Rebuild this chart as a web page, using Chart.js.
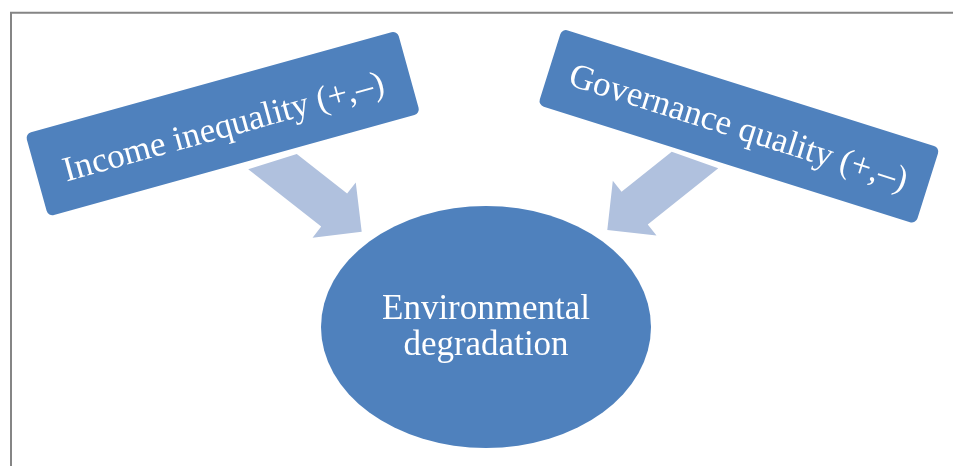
<!DOCTYPE html>
<html>
<head>
<meta charset="utf-8">
<script src="https://cdn.jsdelivr.net/npm/chart.js@4"></script>
<style>
  html, body { margin: 0; padding: 0; background: #ffffff; }
  #wrap { position: relative; width: 953px; height: 466px; }
</style>
</head>
<body>
<div id="wrap"><canvas id="c"></canvas></div>
<script>
// ---- Data (diagram coordinates on a 0–953 × 0–466 value grid) ----
const nodeLabels = ["Income inequality (+,–)", "Governance quality (+,–)", "Environmental\ndegradation"];
const nodeX = [222.7, 738.9, 486];
const nodeY = [123.6, 126.3, 327];
const arrowTailX = [272.5, 695];
const arrowTailY = [161.7, 160];
const arrowTipX = [361.7, 607.3];
const arrowTipY = [231.7, 230];

const diagramPlugin = {
  id: 'diagram',
  beforeDraw(chart, args, opts) {
    const ctx = chart.ctx;
    const xs = chart.scales.x, ys = chart.scales.y;
    ctx.save();
    ctx.fillStyle = '#ffffff';
    ctx.fillRect(0, 0, chart.width, chart.height);
    // frame
    ctx.strokeStyle = opts.frameColor;
    ctx.lineWidth = 2;
    ctx.beginPath();
    ctx.moveTo(xs.getPixelForValue(11), ys.getPixelForValue(470));
    ctx.lineTo(xs.getPixelForValue(11), ys.getPixelForValue(12.8));
    ctx.lineTo(xs.getPixelForValue(960), ys.getPixelForValue(12.8));
    ctx.stroke();
    ctx.restore();
  },
  afterDatasetsDraw(chart, args, opts) {
    const ctx = chart.ctx;
    const xs = chart.scales.x, ys = chart.scales.y;
    const pts = chart.getDatasetMeta(0).data;
    const px = v => xs.getPixelForValue(v) - xs.getPixelForValue(0);
    ctx.save();

    // arrows
    for (let i = 0; i < arrowTailX.length; i++) {
      const T = [xs.getPixelForValue(arrowTailX[i]), ys.getPixelForValue(arrowTailY[i])];
      const P = [xs.getPixelForValue(arrowTipX[i]), ys.getPixelForValue(arrowTipY[i])];
      let dx = P[0] - T[0], dy = P[1] - T[1];
      const L = Math.hypot(dx, dy); dx /= L; dy /= L;
      const nx = dy, ny = -dx;
      const hl = px(opts.headLength), hw = px(opts.headHalf), sw = px(opts.shaftHalf);
      const B = [P[0] - hl * dx, P[1] - hl * dy];
      const a = opts.tailAngles[i] * Math.PI / 180;
      const cx = Math.cos(a), cy = Math.sin(a);
      const tailPt = s => {
        const Ox = B[0] + s * nx, Oy = B[1] + s * ny;
        const det = dx * (-cy) - dy * (-cx);
        const rx = T[0] - Ox, ry = T[1] - Oy;
        const t = (rx * (-cy) - ry * (-cx)) / det;
        return [Ox + t * dx, Oy + t * dy];
      };
      const t1 = tailPt(sw), t2 = tailPt(-sw);
      ctx.fillStyle = opts.arrowColor;
      ctx.beginPath();
      ctx.moveTo(t1[0], t1[1]);
      ctx.lineTo(B[0] + sw * nx, B[1] + sw * ny);
      ctx.lineTo(B[0] + hw * nx, B[1] + hw * ny);
      ctx.lineTo(P[0], P[1]);
      ctx.lineTo(B[0] - hw * nx, B[1] - hw * ny);
      ctx.lineTo(B[0] - sw * nx, B[1] - sw * ny);
      ctx.lineTo(t2[0], t2[1]);
      ctx.closePath();
      ctx.fill();
    }

    // boxes
    ctx.font = opts.font;
    for (let i = 0; i < 2; i++) {
      const p = pts[i];
      const w = px(opts.boxW[i]), h = px(opts.boxH[i]), r = px(opts.radius);
      ctx.save();
      ctx.translate(p.x, p.y);
      ctx.rotate(opts.boxAngles[i] * Math.PI / 180);
      ctx.fillStyle = opts.boxColor;
      ctx.beginPath();
      const x0 = -w / 2, y0 = -h / 2;
      ctx.moveTo(x0 + r, y0);
      ctx.lineTo(x0 + w - r, y0);
      ctx.arcTo(x0 + w, y0, x0 + w, y0 + r, r);
      ctx.lineTo(x0 + w, y0 + h - r);
      ctx.arcTo(x0 + w, y0 + h, x0 + w - r, y0 + h, r);
      ctx.lineTo(x0 + r, y0 + h);
      ctx.arcTo(x0, y0 + h, x0, y0 + h - r, r);
      ctx.lineTo(x0, y0 + r);
      ctx.arcTo(x0, y0, x0 + r, y0, r);
      ctx.closePath();
      ctx.fill();
      ctx.fillStyle = '#ffffff';
      ctx.textAlign = 'center';
      ctx.textBaseline = 'alphabetic';
      ctx.fillText(nodeLabels[i], 0, opts.textBase[i]);
      ctx.restore();
    }

    // ellipse
    const e = pts[2];
    ctx.fillStyle = opts.boxColor;
    ctx.beginPath();
    ctx.ellipse(e.x, e.y, px(opts.ellRx), px(opts.ellRy), 0, 0, Math.PI * 2);
    ctx.fill();
    ctx.fillStyle = '#ffffff';
    ctx.textAlign = 'center';
    ctx.textBaseline = 'alphabetic';
    const lines = nodeLabels[2].split('\n');
    ctx.fillText(lines[0], e.x, e.y - 8);
    ctx.fillText(lines[1], e.x, e.y + 28);
    ctx.restore();
  }
};

new Chart(document.getElementById('c'), {
  type: 'scatter',
  data: {
    datasets: [{
      label: 'nodes',
      data: nodeX.map((x, i) => ({ x: x, y: nodeY[i] })),
      pointRadius: 0,
      pointHoverRadius: 0
    }]
  },
  options: {
    responsive: true,
    maintainAspectRatio: false,
    animation: false,
    layout: { padding: 0 },
    events: [],
    scales: {
      x: { type: 'linear', min: 0, max: 953, display: false },
      y: { type: 'linear', min: 0, max: 466, reverse: true, display: false }
    },
    plugins: {
      legend: { display: false },
      tooltip: { enabled: false },
      diagram: {
        frameColor: '#858585',
        boxColor: '#4f81bd',
        arrowColor: '#b0c1de',
        font: '35px "Liberation Serif", "Times New Roman", serif',
        boxW: [386, 396],
        boxH: [86, 80],
        boxAngles: [-15.5, 17.5],
        textBase: [14, 12],
        radius: 6,
        ellRx: 165,
        ellRy: 121,
        headLength: 35,
        headHalf: 35,
        shaftHalf: 21,
        tailAngles: [-17.5, 19.6]
      }
    }
  },
  plugins: [diagramPlugin]
});
</script>
</body>
</html>
